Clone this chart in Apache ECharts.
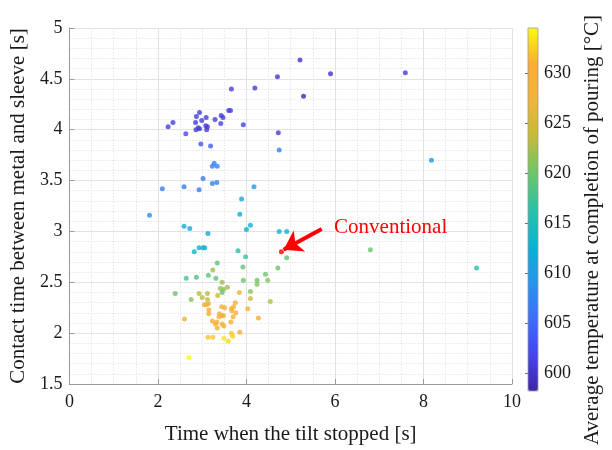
<!DOCTYPE html>
<html>
<head>
<meta charset="utf-8">
<script src="https://cdn.jsdelivr.net/npm/echarts@6/dist/echarts.min.js"></script>
<style>
  html, body { margin: 0; padding: 0; background: #fff; }
  #chart { width: 612px; height: 450px; }
</style>
</head>
<body>
<div id="chart"></div>
<script>
// Tilt stop time [s], contact time [s] and average pouring temperature [°C] per casting
const tiltStop = [
  5.21, 4.70, 3.66, 4.19, 5.29, 5.90, 7.59, 2.94, 2.87, 3.09,
  3.29, 3.43, 3.47, 3.60, 3.64, 2.34, 2.23, 2.85, 2.99, 2.91,
  2.86, 2.94, 3.08, 3.12, 3.10, 3.42, 3.93, 2.63, 4.72, 2.97,
  3.19, 4.74, 3.27, 3.23, 3.34, 3.02, 3.23, 3.33, 2.10, 2.59,
  2.93, 4.17, 3.89, 3.85, 1.81, 8.18, 2.59, 2.72, 4.09, 4.00,
  4.74, 4.91, 3.13, 2.93, 3.02, 3.06, 2.82, 3.81, 3.98, 4.91,
  3.34, 4.71, 3.24, 3.92, 3.14, 3.31, 2.64, 2.87, 4.43, 4.24,
  4.24, 3.93, 4.48, 3.45, 3.41, 3.48, 3.57, 3.45, 2.39, 2.93,
  3.12, 3.00, 3.35, 3.84, 4.09, 2.75, 3.12, 4.09, 4.54, 3.14,
  3.05, 3.09, 3.44, 3.51, 3.75, 3.66, 3.71, 3.67, 3.76, 3.70,
  4.03, 3.15, 3.39, 3.45, 3.38, 3.48, 3.15, 2.60, 4.27, 3.23,
  3.33, 3.30, 3.45, 3.49, 3.65, 3.34, 3.66, 3.85, 3.69, 3.13,
  3.24, 3.49, 3.59, 2.70, 6.80, 9.20
];
const contactTime = [
  4.685, 4.52, 4.40, 4.41, 4.33, 4.55, 4.56, 4.17, 4.13, 4.12,
  4.10, 4.14, 4.12, 4.19, 4.19, 4.07, 4.03, 4.07, 4.09, 4.02,
  4.00, 4.01, 4.04, 4.03, 4.00, 4.06, 4.05, 3.96, 3.97, 3.86,
  3.84, 3.80, 3.67, 3.64, 3.64, 3.52, 3.47, 3.48, 3.42, 3.44,
  3.41, 3.44, 3.32, 3.17, 3.16, 3.70, 3.05, 3.03, 3.06, 3.02,
  3.00, 3.00, 2.98, 2.84, 2.84, 2.84, 2.80, 2.81, 2.75, 2.74,
  2.69, 2.64, 2.62, 2.65, 2.57, 2.54, 2.54, 2.55, 2.58, 2.52,
  2.48, 2.52, 2.52, 2.50, 2.44, 2.43, 2.45, 2.40, 2.39, 2.39,
  2.39, 2.35, 2.37, 2.40, 2.41, 2.33, 2.33, 2.34, 2.31, 2.29,
  2.28, 2.28, 2.26, 2.25, 2.30, 2.24, 2.26, 2.22, 2.20, 2.16,
  2.24, 2.23, 2.19, 2.17, 2.16, 2.17, 2.19, 2.14, 2.15, 2.12,
  2.11, 2.09, 2.09, 2.07, 2.11, 2.05, 2.00, 2.01, 1.97, 1.96,
  1.96, 1.95, 1.92, 1.76, 2.82, 2.64
];
const pourTemp = [
  600, 600.5, 601, 601, 598.5, 600, 601, 601, 601, 601,
  601, 601, 601, 601.5, 601.5, 601, 601, 601, 601, 601,
  601, 601, 601, 601, 601, 601.5, 601.5, 602, 601, 603.5,
  604, 607, 607, 607, 607.5, 606, 607.5, 607, 607, 607,
  606.5, 610, 611, 612, 608.5, 609.5, 612, 612, 613, 613,
  613, 613, 611.5, 613, 613, 613, 613.5, 616, 617, 619,
  619, 620, 622, 619, 619, 619, 618, 618, 620, 620,
  621, 620, 621, 622, 622, 621, 622, 620, 620, 623,
  623, 623, 624, 627, 621, 621, 624, 624, 623, 625,
  628, 628, 629, 629, 629, 629, 629, 630, 629, 630,
  630, 629, 629, 630, 630, 629, 629, 627, 631, 630,
  630, 631, 630, 631, 631, 631, 632, 631, 632.5, 632,
  632, 633.5, 633, 634.5, 620, 616
];

// Conventional process point
const conventional = [4.79, 2.80];

// Tick values
const xTicks = [0, 2, 4, 6, 8, 10];
const yTicks = [1.5, 2, 2.5, 3, 3.5, 4, 4.5, 5];
const cbTicks = [600, 605, 610, 615, 620, 625, 630];
const cbRange = [598.2, 634.5];

// Parula-like colour ramp
const parula = [
  '#3E26A8', '#4745E9', '#3D6EFC', '#2795EB', '#0CB2D2',
  '#2CC0A6', '#6CC66A', '#C4BB38', '#F0B43A', '#F9AC36', '#F9FB0E'
];

const FONT = "'Liberation Serif', 'Times New Roman', serif";

const points = tiltStop.map((x, i) => [x, contactTime[i], pourTemp[i]]);

const chart = echarts.init(document.getElementById('chart'), null, { renderer: 'canvas' });

const option = {
  animation: false,
  backgroundColor: '#ffffff',
  textStyle: { fontFamily: FONT },
  grid: [
    { left: 69, top: 28, width: 443, height: 363, containLabel: false },
    { left: 528, top: 28, width: 10, height: 363, show: true,
      borderColor: '#9a9a9a', borderWidth: 0.8, backgroundColor: 'transparent', z: 5 }
  ],
  xAxis: [
    {
      type: 'value', gridIndex: 0, min: xTicks[0], max: xTicks[xTicks.length - 1], interval: 2,
      name: 'Time when the tilt stopped [s]', nameLocation: 'middle', nameGap: 40,
      nameTextStyle: { fontFamily: FONT, fontSize: 21, color: '#1a1a1a' },
      axisLine: { show: true, lineStyle: { color: '#9a9a9a', width: 1 } },
      axisTick: { show: true, inside: true, length: 5, lineStyle: { color: '#9a9a9a' } },
      axisLabel: { fontFamily: FONT, fontSize: 18, color: '#1a1a1a', margin: 9 },
      splitLine: { show: true, lineStyle: { color: '#e2e2e2', width: 1 } },
      minorTick: { show: false, splitNumber: 4 },
      minorSplitLine: { show: true, lineStyle: { color: '#e6e6e6', width: 1, type: [1.5, 1.5] } }
    },
    { type: 'value', gridIndex: 1, min: 0, max: 1, show: false }
  ],
  yAxis: [
    {
      type: 'value', gridIndex: 0, min: yTicks[0], max: yTicks[yTicks.length - 1], interval: 0.5,
      name: 'Contact time between metal and sleeve [s]', nameLocation: 'middle', nameGap: 38,
      nameTextStyle: { fontFamily: FONT, fontSize: 21, color: '#1a1a1a' },
      axisLine: { show: true, lineStyle: { color: '#9a9a9a', width: 1 } },
      axisTick: { show: true, inside: true, length: 5, lineStyle: { color: '#9a9a9a' } },
      axisLabel: { fontFamily: FONT, fontSize: 18, color: '#1a1a1a', margin: 7 },
      splitLine: { show: true, lineStyle: { color: '#e2e2e2', width: 1 } },
      minorTick: { show: false, splitNumber: 5 },
      minorSplitLine: { show: true, lineStyle: { color: '#e6e6e6', width: 1, type: [1.5, 1.5] } }
    },
    {
      type: 'value', gridIndex: 1, position: 'right', min: cbRange[0], max: cbRange[1],
      axisLine: { show: false },
      axisTick: { show: true, inside: true, length: 3, customValues: cbTicks,
                  lineStyle: { color: '#666' } },
      axisLabel: { show: true, customValues: cbTicks, fontFamily: FONT, fontSize: 18,
                   color: '#1a1a1a', margin: 6 },
      splitLine: { show: false }
    }
  ],
  visualMap: {
    type: 'continuous',
    min: cbRange[0], max: cbRange[1],
    dimension: 2,
    seriesIndex: 0,
    orient: 'vertical',
    left: 528, top: 28,
    itemWidth: 10, itemHeight: 363,
    padding: 0,
    calculable: false,
    realtime: false,
    hoverLink: false,
    text: null,
    showLabel: false,
    inRange: { color: parula }
  },
  graphic: [
    {
      type: 'text',
      rotation: Math.PI / 2,
      x: 592, y: 230,
      style: {
        text: 'Average temperature at completion of pouring [°C]',
        font: "21px 'Liberation Serif', 'Times New Roman', serif",
        fill: '#1a1a1a',
        textAlign: 'center',
        textVerticalAlign: 'middle'
      }
    }
  ],
  series: [
    {
      name: 'castings',
      type: 'scatter',
      xAxisIndex: 0, yAxisIndex: 0,
      symbol: 'circle',
      symbolSize: 5,
      data: points,
      z: 3
    },
    {
      name: 'Conventional',
      type: 'scatter',
      xAxisIndex: 0, yAxisIndex: 0,
      symbol: 'circle',
      symbolSize: 5,
      itemStyle: { color: '#ff0000' },
      data: [conventional],
      z: 4,
      markLine: {
        silent: true,
        symbol: ['none', 'arrow'],
        symbolSize: 18,
        label: { show: false },
        emphasis: { disabled: true },
        lineStyle: { color: '#ff0000', width: 4, type: 'solid', opacity: 1 },
        itemStyle: { color: '#ff0000' },
        data: [[{ coord: [5.70, 3.025] }, { coord: [4.84, 2.82] }]]
      },
      markPoint: {
        silent: true,
        symbol: 'circle',
        symbolSize: 0,
        label: {
          show: true, position: 'right', distance: 0,
          formatter: 'Conventional',
          fontFamily: FONT, fontSize: 21, color: '#ff0000'
        },
        data: [{ coord: [5.98, 3.04] }]
      }
    }
  ]
};

chart.setOption(option);
</script>
</body>
</html>
